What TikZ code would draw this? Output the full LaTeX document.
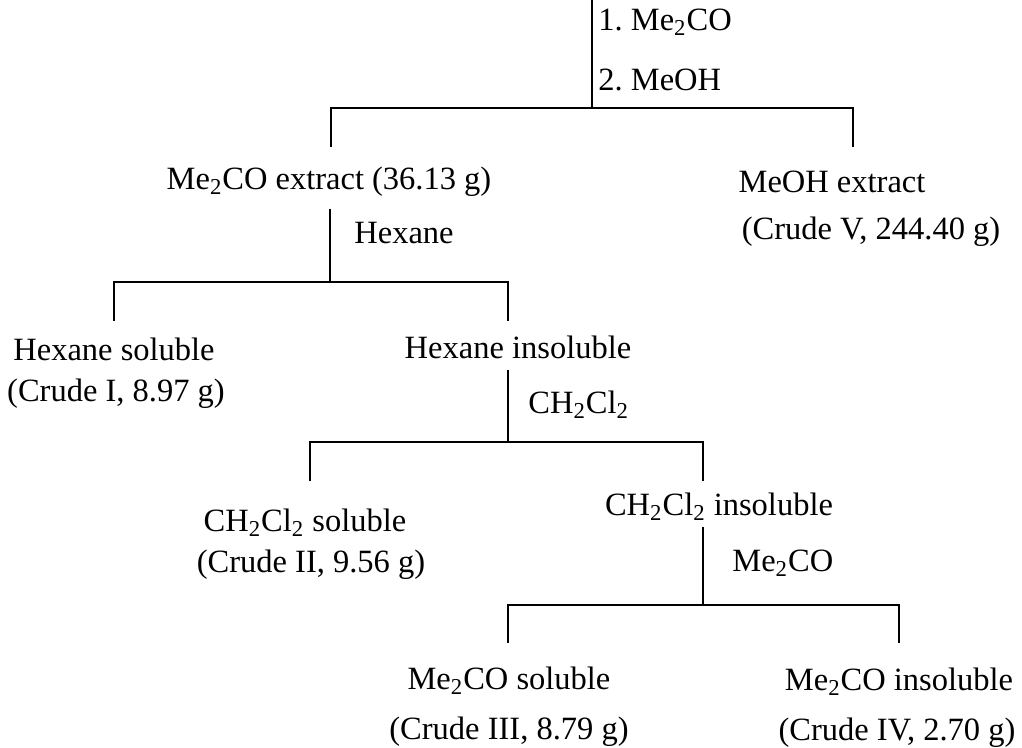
\documentclass[tikz,border=0pt]{standalone}
\usepackage{fontspec}
\setmainfont{Liberation Serif}
\usetikzlibrary{positioning}
\frenchspacing

\begin{document}
\begin{tikzpicture}[
        x=0.5pt, y=-0.5pt,
        font=\fontsize{16.25}{19}\selectfont,
        node distance=1pt,
        txt/.style={inner sep=2pt, text height=11.7pt, text depth=3.6pt},
        reagent/.style={txt, anchor=west},
        branch/.style={line width=1pt}
    ]
    \useasboundingbox (0,0) rectangle (1022,748);

    % products
    \node[txt] (acet) at (329,181) {Me\textsubscript{2}CO extract (36.13 g)};
    \node[txt] (meoh) at (832,184) {MeOH extract};
    \node[txt] (crude5) at (871,231) {(Crude V, 244.40 g)};

    \node[txt] (hexsol) at (114,352) {Hexane soluble};
    \node[txt] (crude1) [below=of hexsol, xshift=1pt] {(Crude I, 8.97 g)};
    \node[txt] (hexins) at (518,350) {Hexane insoluble};

    \node[txt] (dcmsol) at (305,523) {CH\textsubscript{2}Cl\textsubscript{2} soluble};
    \node[txt] (crude2) [below=of dcmsol, xshift=3pt] {(Crude II, 9.56 g)};
    \node[txt] (dcmins) at (719,507) {CH\textsubscript{2}Cl\textsubscript{2} insoluble};

    \node[txt] (acsol) at (509,681) {Me\textsubscript{2}CO soluble};
    \node[txt] (crude3) [below=5.5pt of acsol] {(Crude III, 8.79 g)};
    \node[txt] (acins) at (899,682) {Me\textsubscript{2}CO insoluble};
    \node[txt] (crude4) [below=5.5pt of acins, xshift=-1pt] {(Crude IV, 2.70 g)};

    % solvents
    \node[reagent] (solv1) at (594,22) {1. Me\textsubscript{2}CO};
    \node[reagent] (solv2) at (594,82) {2. MeOH};
    \node[reagent] (solv3) at (350,235) {Hexane};
    \node[reagent] (solv4) at (524,405) {CH\textsubscript{2}Cl\textsubscript{2}};
    \node[reagent] (solv5) at (728,563) {Me\textsubscript{2}CO};

    % junctions and drop ends
    \coordinate (feed) at (592,0);
    \coordinate (j1) at (592,108);
    \coordinate (d1l) at (331,147);
    \coordinate (d1r) at (853,147);
    \coordinate (j2) at (330,282);
    \coordinate (d2l) at (114,321);
    \coordinate (d2r) at (508,321);
    \coordinate (j3) at (508,442);
    \coordinate (d3l) at (310,481);
    \coordinate (d3r) at (703,481);
    \coordinate (j4) at (703,605);
    \coordinate (d4l) at (508,643);
    \coordinate (d4r) at (899,643);

    \draw[branch] (feed) -- (j1);
    \draw[branch] (d1l) |- (j1) -| (d1r);

    \draw[branch] (acet.south -| j2) ++(0,8) -- (j2);
    \draw[branch] (d2l) |- (j2) -| (d2r);

    \draw[branch] (hexins.south -| j3) -- (j3);
    \draw[branch] (d3l) |- (j3) -| (d3r);

    \draw[branch] (dcmins.south -| j4) -- (j4);
    \draw[branch] (d4l) |- (j4) -| (d4r);
\end{tikzpicture}
\end{document}
